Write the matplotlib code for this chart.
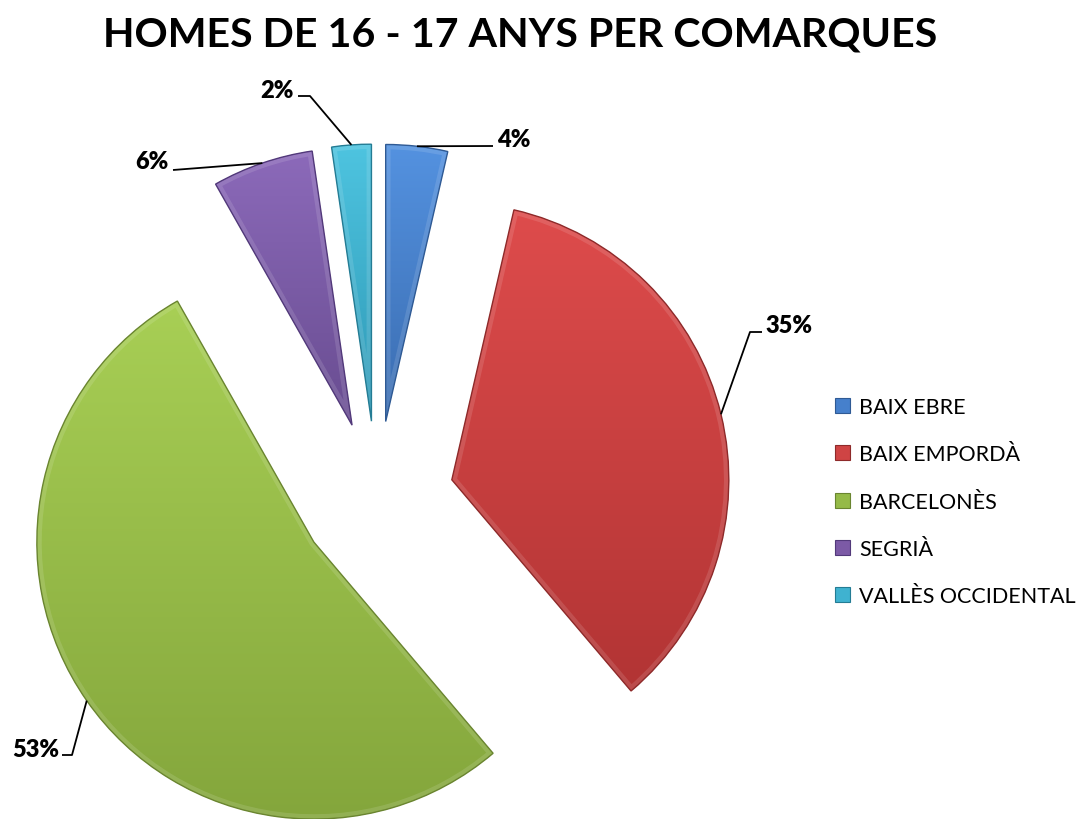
import numpy as np
import matplotlib
matplotlib.use("Agg")
import matplotlib.pyplot as plt
from matplotlib.colors import to_rgb
from matplotlib.patches import PathPatch

# ---------------- data ----------------
title = "HOMES DE 16 - 17 ANYS PER COMARQUES"
categories = ["BAIX EBRE", "BAIX EMPORDÀ", "BARCELONÈS", "SEGRIÀ", "VALLÈS OCCIDENTAL"]
values = [3.6, 35.2, 53.0, 5.9, 2.3]
pct_labels = ["4%", "35%", "53%", "6%", "2%"]

# ---------------- style ----------------
mid_colors = ["#4680CC", "#CF4444", "#95BA48", "#7C5AA6", "#3FB2D0"]
top_colors = ["#5492E0", "#DE4C4C", "#A8CF55", "#8C6ABA", "#4EC4E0"]
bottom_colors = ["#3A6CB0", "#B23434", "#84A63C", "#684C90", "#2E98B5"]
edge_colors = ["#2F5A94", "#8E2A2A", "#6A8530", "#52397A", "#247C94"]

FONT = ["Lato", "DejaVu Sans"]
W, H = 1085, 820
RADIUS = 277
EXPLODE = 77  # pixels (data units)

fig = plt.figure(figsize=(W / 100, H / 100), dpi=100)
ax = fig.add_axes([0, 0, 1, 1])

wedges, _ = ax.pie(values, explode=[EXPLODE] * len(values), startangle=90,
                   counterclock=False, radius=RADIUS, center=(377, H - 499),
                   colors=mid_colors,
                   wedgeprops=dict(edgecolor="none", linewidth=0))

# gradient fill + outline
for w, ct, cb, ce in zip(wedges, top_colors, bottom_colors, edge_colors):
    ext = w.get_path().get_extents()
    n = 256
    t = np.linspace(0, 1, n)[:, None, None]
    grad = np.array(to_rgb(cb))[None, None, :] * (1 - t) + np.array(to_rgb(ct))[None, None, :] * t
    im = ax.imshow(grad, extent=[ext.x0, ext.x1, ext.y0, ext.y1], origin="lower",
                   aspect="auto", interpolation="bilinear", zorder=2)
    im.set_clip_path(w)
    # soft light bevel inside the edge
    ax.add_patch(PathPatch(w.get_path(), fill=False, edgecolor=(1, 1, 1, 0.12), lw=7,
                           joinstyle="miter", zorder=2.5, clip_path=w))
    ax.add_patch(PathPatch(w.get_path(), fill=False, edgecolor=ce, lw=1.0, zorder=3))

# label layout (pixel coords, y measured from top): text pos, align, elbow points
label_layout = [
    dict(text=(497, 147), ha="left", pts=[(493, 147)]),
    dict(text=(765, 333), ha="left", pts=[(750, 333), (762, 333)]),
    dict(text=(59, 757), ha="right", pts=[(72, 756), (62, 756)]),
    dict(text=(169, 169), ha="right", pts=[(173, 171)]),
    dict(text=(294, 98), ha="right", pts=[(310, 97), (298, 97)]),
]

for w, lab, lay in zip(wedges, pct_labels, label_layout):
    mid = np.deg2rad((w.theta1 + w.theta2) / 2)
    cx, cy = w.center
    ax_x = cx + w.r * np.cos(mid)
    ax_y = cy + w.r * np.sin(mid)
    xs = [ax_x] + [p[0] for p in lay["pts"]]
    ys = [ax_y] + [H - p[1] for p in lay["pts"]]
    ax.plot(xs, ys, color="black", lw=1.3, zorder=4, solid_capstyle="butt")
    ax.text(lay["text"][0], H - lay["text"][1], lab, ha=lay["ha"], va="baseline",
            fontsize=17, fontweight="heavy", family=FONT, zorder=5)

ax.text(520.5, H - 47, title, ha="center", va="baseline", fontsize=29.6,
        fontweight="bold", family=FONT)

leg = ax.legend(wedges, categories, loc="upper left", bbox_to_anchor=(835 / W, 1 - 398 / H),
                frameon=False, handlelength=0.7, handleheight=0.7, handletextpad=0.42,
                labelspacing=1.27, prop=dict(family=FONT, size=15.5), borderaxespad=0,
                borderpad=0)
for h, ce in zip(leg.legend_handles, edge_colors):
    h.set_edgecolor(ce)
    h.set_linewidth(0.8)

ax.set_xlim(0, W)
ax.set_ylim(0, H)
ax.set_aspect("equal")
ax.axis("off")
fig.savefig("out.png", dpi=100, facecolor="white")
